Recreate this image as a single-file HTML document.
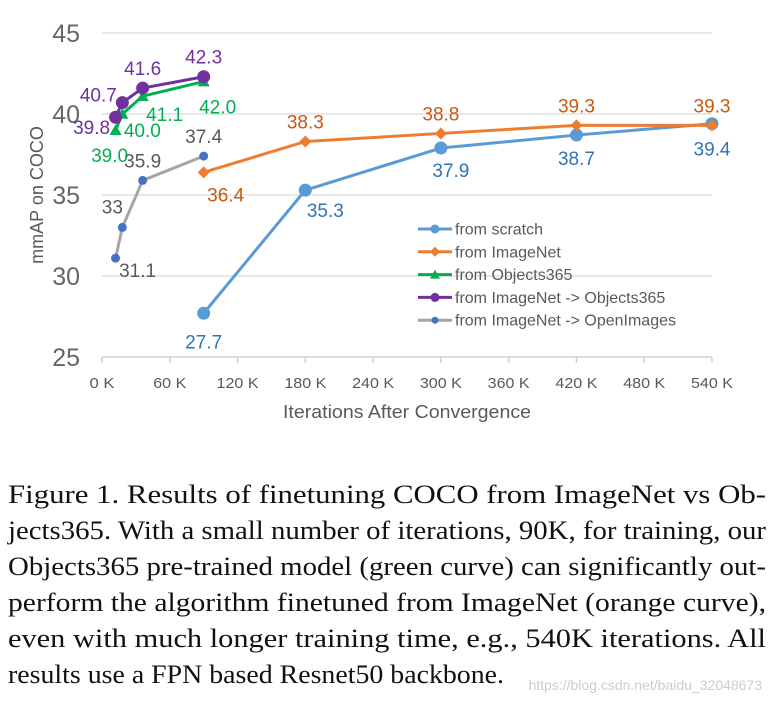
<!DOCTYPE html>
<html><head><meta charset="utf-8"><style>
html,body{margin:0;padding:0;background:#fff;}
svg{display:block;}
</style></head><body>
<svg id="fig" width="772" height="703" xmlns="http://www.w3.org/2000/svg">
<g id="chart"></g>
<g id="caption" font-family="'Liberation Serif', serif" font-size="26" fill="#111">
<text x="8" y="503" textLength="758" lengthAdjust="spacingAndGlyphs">Figure 1. Results of finetuning COCO from ImageNet vs Ob-</text>
<text x="8" y="539" textLength="758" lengthAdjust="spacingAndGlyphs">jects365. With a small number of iterations, 90K, for training, our</text>
<text x="8" y="575" textLength="758" lengthAdjust="spacingAndGlyphs">Objects365 pre-trained model (green curve) can significantly out-</text>
<text x="8" y="611" textLength="758" lengthAdjust="spacingAndGlyphs">perform the algorithm finetuned from ImageNet (orange curve),</text>
<text x="8" y="647" textLength="758" lengthAdjust="spacingAndGlyphs">even with much longer training time, e.g., 540K iterations.  All</text>
<text x="8" y="683" textLength="496" lengthAdjust="spacingAndGlyphs">results use a FPN based Resnet50 backbone.</text>
</g>
<text x="762" y="690" text-anchor="end" font-family="'Liberation Sans', sans-serif" font-size="14" fill="#ccc">https://blog.csdn.net/baidu_32048673</text>
</svg>
<script>
const xTicks=[0,60,120,180,240,300,360,420,480,540];
const yTicks=[25,30,35,40,45];
const scratchX=[90,180,300,420,540];
const scratchY=[27.7,35.3,37.9,38.7,39.4];
const imagenetX=[90,180,300,420,540];
const imagenetY=[36.4,38.3,38.8,39.3,39.3];
const objX=[12,18,36,90];
const objY=[39.0,40.0,41.1,42.0];
const inobjX=[12,18,36,90];
const inobjY=[39.8,40.7,41.6,42.3];
const inopenX=[12,18,36,90];
const inopenY=[31.1,33,35.9,37.4];
const openLabels=["31.1","33","35.9","37.4"];

const NS="http://www.w3.org/2000/svg";
const g=document.getElementById('chart');
const sx=v=>102+v*(712-102)/540;
const sy=v=>357-(v-25)*(357-33)/20;
function el(t,a,p){const e=document.createElementNS(NS,t);for(const k in a)e.setAttribute(k,a[k]);(p||g).appendChild(e);return e;}
const SANS="'Liberation Sans', sans-serif";

yTicks.forEach(t=>{
  const l=el('line',{x1:102,x2:712,y1:sy(t),y2:sy(t),stroke:t===25?'#d0d0d0':'#e0e0e0','stroke-width':1.5});
  
  
  const tx=el('text',{x:80,y:sy(t)+9,'text-anchor':'end','font-family':SANS,'font-size':25,fill:'#666'});
  tx.textContent=t;
  
  
});
xTicks.forEach(t=>{
  const l=el('line',{x1:sx(t),x2:sx(t),y1:357,y2:363,stroke:'#d0d0d0','stroke-width':1.5});
  
  
  const tx=el('text',{x:sx(t),y:388,'text-anchor':'middle','font-family':SANS,'font-size':15,fill:'#595959',textLength:(t===0?25:t<100?33:42),lengthAdjust:'spacingAndGlyphs'});
  tx.textContent=t+' K';
  
  
});
const xt=el('text',{x:407,y:418,'text-anchor':'middle','font-family':SANS,'font-size':18,fill:'#595959',textLength:248,lengthAdjust:'spacingAndGlyphs'});
xt.textContent='Iterations After Convergence';


const yt=el('text',{x:0,y:0,'text-anchor':'middle','font-family':SANS,'font-size':18,fill:'#595959',transform:'translate(43,195) rotate(-90)'});
yt.textContent='mmAP on COCO';



function marker(shape,x,y,col,r,parent){
  let m;
  if(shape==='circle') m=el('circle',{cx:x,cy:y,r:r,fill:col},parent);
  else if(shape==='diamond') m=el('polygon',{points:`${x},${y-r} ${x+r},${y} ${x},${y+r} ${x-r},${y}`,fill:col},parent);
  else m=el('polygon',{points:`${x},${y-r} ${x+r},${y+r*0.8} ${x-r},${y+r*0.8}`,fill:col},parent);
  return m;
}
const series=[
 {name:'scratch',xs:scratchX,ys:scratchY,line:'#5B9BD5',mk:'#5B9BD5',shape:'circle',r:6.5,lab:'#2E75B6',labels:scratchY.map(v=>v.toFixed(1)),off:[[0,28],[20,20],[10,22],[0,23],[0,25]]},
 {name:'imagenet',xs:imagenetX,ys:imagenetY,line:'#ED7D31',mk:'#ED7D31',shape:'diamond',r:6,lab:'#C55A11',labels:imagenetY.map(v=>v.toFixed(1)),off:[[22,22],[0,-20],[0,-20],[0,-20],[0,-20]]},
 {name:'objects365',xs:objX,ys:objY,line:'#00B050',mk:'#00B050',shape:'tri',r:6,lab:'#00B050',labels:objY.map(v=>v.toFixed(1)),off:[[-6,25],[20,16],[22,18],[14,25]]},
 {name:'imagenet-objects365',xs:inobjX,ys:inobjY,line:'#7030A0',mk:'#7030A0',shape:'circle',r:6.5,lab:'#7030A0',labels:inobjY.map(v=>v.toFixed(1)),off:[[-24,10],[-24,-8],[0,-20],[0,-20]]},
 {name:'imagenet-openimages',xs:inopenX,ys:inopenY,line:'#A5A5A5',mk:'#4472C4',shape:'circle',r:4.5,lab:'#595959',labels:openLabels,off:[[22,12],[-10,-21],[0,-20],[0,-20]]}
];
series.forEach(s=>{
  const sg=el('g',{});
  
  
  const p=el('polyline',{points:s.xs.map((x,i)=>sx(x)+','+sy(s.ys[i])).join(' '),fill:'none',stroke:s.line,'stroke-width':3,'stroke-linejoin':'round'},sg);
  
  
  s.xs.forEach((x,i)=>{
    const m=marker(s.shape,sx(x),sy(s.ys[i]),s.mk,s.r,sg);
    
    
    const t=el('text',{x:sx(x)+s.off[i][0],y:sy(s.ys[i])+s.off[i][1]+7,'text-anchor':'middle','font-family':SANS,'font-size':19,fill:s.lab},sg);
    t.textContent=s.labels[i];
    
    
  });
});
const legendNames=['from scratch','from ImageNet','from Objects365','from ImageNet -> Objects365','from ImageNet -> OpenImages'];
const lg=el('g',{});


series.forEach((s,i)=>{
  const y=229+i*22.8;
  const eg=el('g',{},lg);
  
  
  el('line',{x1:418,x2:452,y1:y,y2:y,stroke:s.line,'stroke-width':3},eg);
  marker(s.shape,435,y,s.mk,s.shape==='circle'?(s.r>5?4.5:3.5):5,eg);
  const t=el('text',{x:455,y:y+5.5,'font-family':SANS,'font-size':16,fill:'#595959'},eg);
  t.textContent=legendNames[i];
});
</script>
</body></html>
